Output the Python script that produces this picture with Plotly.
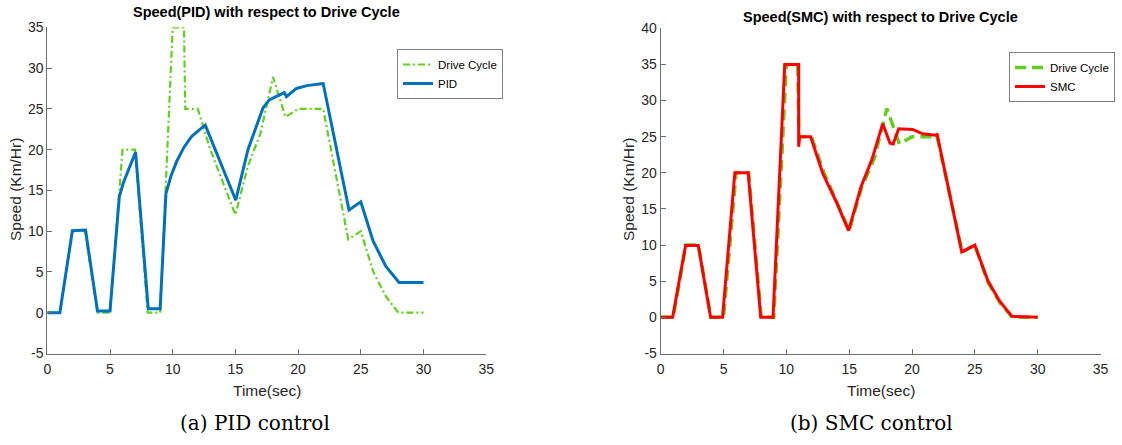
import plotly.graph_objects as go

# ---------------- data ----------------
t_drive = [0, 1, 2, 3, 4, 5, 6, 7, 8, 9, 10, 10.9, 11, 12, 13, 14, 15, 16, 17, 18, 19, 20,
           21, 22, 23, 24, 25, 26, 27, 28, 29, 30]
v_drive = [0, 0, 10, 10, 0, 0, 20, 20, 0, 0, 35, 35, 25, 25, 20, 16, 12, 18, 22, 28.9, 24, 25,
           25, 25, 17, 9, 10, 5, 2, 0, 0, 0]

t_pid = [0, 1, 2, 3.05, 4, 5, 5.74, 6.06, 7.04, 8.05, 9, 9.46, 9.85, 10.3, 10.9, 11.5, 12.1,
         12.6, 15.03, 16.0, 17.2, 17.7, 18.9, 19.07, 19.87, 20.7, 21.7, 22.0, 24.06, 25.0,
         25.98, 26.99, 28.05, 30.0]
v_pid = [0, 0, 10.05, 10.14, 0.2, 0.2, 14.2, 15.9, 19.7, 0.5, 0.5, 14.6, 16.7, 18.5, 20.3,
         21.6, 22.4, 23.0, 13.8, 20.0, 25.1, 26.1, 27.0, 26.5, 27.5, 27.85, 28.05, 28.1, 12.6,
         13.6, 8.8, 5.7, 3.7, 3.7]

t_smc = [0, 0.95, 1.98, 2.99, 3.97, 4.92, 5.9, 6.96, 7.96, 8.94, 9.87, 10.98, 10.98, 11.06,
         11.93, 12.9, 13.97, 14.95, 15.95, 16.8, 17.67, 18.25, 18.5, 18.94, 20.05, 20.85,
         21.85, 22.0, 23.96, 25.0, 26.04, 26.95, 27.95, 29.1, 30.0]
v_smc = [0, 0, 9.95, 9.95, 0, 0, 20, 20, 0, 0, 35, 35, 23.6, 25, 25, 19.9, 16, 12, 18.1,
         21.8, 26.8, 24.1, 24.0, 26.1, 26.0, 25.4, 25.2, 25.3, 9.06, 10.0, 5.06, 2.3, 0.14,
         0.1, 0]

x_ticks = [0, 5, 10, 15, 20, 25, 30, 35]
y_ticks_pid = [-5, 0, 5, 10, 15, 20, 25, 30, 35]
y_ticks_smc = [-5, 0, 5, 10, 15, 20, 25, 30, 35, 40]

titles = ["Speed(PID) with respect to Drive Cycle", "Speed(SMC) with respect to Drive Cycle"]
x_label = "Time(sec)"
y_label = "Speed (Km/Hr)"
captions = ["(a) PID control", "(b) SMC control"]

# ---------------- style ----------------
W, H = 1122, 445
GREEN = "#62CF1C"
BLUE = "#0072BD"
RED = "#FF0000"
AX = "#6e6e6e"
TXT = "#262626"
SANS = "Liberation Sans, Arial, sans-serif"
SERIF = "DejaVu Serif, Liberation Serif, serif"

def px_x(p):
    return p / W

def px_y(p):
    return (H - p) / H

def labels(vals):
    return [str(v) for v in vals]

fig = go.Figure()

fig.add_trace(go.Scatter(x=t_drive, y=v_drive, mode="lines", name="Drive Cycle",
                         line=dict(color=GREEN, width=2.2, dash="7px,3px,2px,3px"),
                         xaxis="x", yaxis="y", legend="legend"))
fig.add_trace(go.Scatter(x=t_pid, y=v_pid, mode="lines", name="PID",
                         line=dict(color=BLUE, width=3),
                         xaxis="x", yaxis="y", legend="legend"))
fig.add_trace(go.Scatter(x=t_drive, y=v_drive, mode="lines", name="Drive Cycle",
                         line=dict(color=GREEN, width=3.5, dash="11px,6px"),
                         xaxis="x2", yaxis="y2", legend="legend2"))
fig.add_trace(go.Scatter(x=t_smc, y=v_smc, mode="lines", name="SMC",
                         line=dict(color=RED, width=3),
                         xaxis="x2", yaxis="y2", legend="legend2"))

axis_common = dict(showline=True, linecolor=AX, linewidth=1, ticks="inside", ticklen=5,
                   tickcolor=AX, showgrid=False, zeroline=False, mirror=False,
                   automargin=False,
                   tickfont=dict(family=SANS, size=14, color=TXT))

left_dom = [px_x(47.3), px_x(486.2)]
right_dom = [px_x(660.7), px_x(1100.5)]
ydom_left = [px_y(353.5), px_y(27.3)]
ydom_right = [px_y(353.5), px_y(28.3)]

fig.update_layout(
    width=W, height=H,
    margin=dict(l=0, r=0, t=0, b=0, autoexpand=False),
    paper_bgcolor="white", plot_bgcolor="white",
    showlegend=True,
    xaxis=dict(domain=left_dom, range=[0, 35], tickvals=x_ticks, ticktext=labels(x_ticks),
               anchor="y", ticklabelstandoff=3, **axis_common),
    yaxis=dict(domain=ydom_left, range=[-5, 35], tickvals=y_ticks_pid,
               ticktext=labels(y_ticks_pid), anchor="x", **axis_common),
    xaxis2=dict(domain=right_dom, range=[0, 35], tickvals=x_ticks, ticktext=labels(x_ticks),
                anchor="y2", ticklabelstandoff=3, **axis_common),
    yaxis2=dict(domain=ydom_right, range=[-5, 40], tickvals=y_ticks_smc,
                ticktext=labels(y_ticks_smc), anchor="x2", **axis_common),
    legend=dict(x=px_x(397), y=px_y(49), xanchor="left", yanchor="top",
                bgcolor="white", bordercolor="#7f7f7f", borderwidth=1,
                font=dict(family=SANS, size=11.5, color="black"),
                tracegroupgap=0, itemwidth=30),
    legend2=dict(x=px_x(1009), y=px_y(52), xanchor="left", yanchor="top",
                 bgcolor="white", bordercolor="#7f7f7f", borderwidth=1,
                 font=dict(family=SANS, size=11.5, color="black"),
                 tracegroupgap=0, itemwidth=30),
)

ann = []
centers = [(47.3 + 486.2) / 2, (660.7 + 1100.5) / 2]
title_y = [12, 17]
for i in range(2):
    ann.append(dict(text="<b>" + titles[i] + "</b>", x=px_x(centers[i]), y=px_y(title_y[i]),
                    xref="paper", yref="paper", showarrow=False, xanchor="center",
                    yanchor="middle", font=dict(family=SANS, size=14.5, color="black")))
    ann.append(dict(text=x_label, x=px_x(centers[i]), y=px_y(390), xref="paper", yref="paper",
                    showarrow=False, xanchor="center", yanchor="middle",
                    font=dict(family=SANS, size=15.5, color=TXT)))
    ann.append(dict(text=y_label, x=px_x([15, 628][i]), y=px_y(190), xref="paper",
                    yref="paper", showarrow=False, xanchor="center", yanchor="middle",
                    textangle=-90, font=dict(family=SANS, size=15.5, color=TXT)))
cap_x = [255, 871]
for i in range(2):
    ann.append(dict(text=captions[i], x=px_x(cap_x[i]), y=px_y(423), xref="paper",
                    yref="paper", showarrow=False, xanchor="center", yanchor="middle",
                    font=dict(family=SERIF, size=20, color="black")))
fig.update_layout(annotations=ann)

fig.write_html("out.html", config={"displayModeBar": False},
               post_script="document.body.style.margin='0';document.body.style.overflow='hidden';")
